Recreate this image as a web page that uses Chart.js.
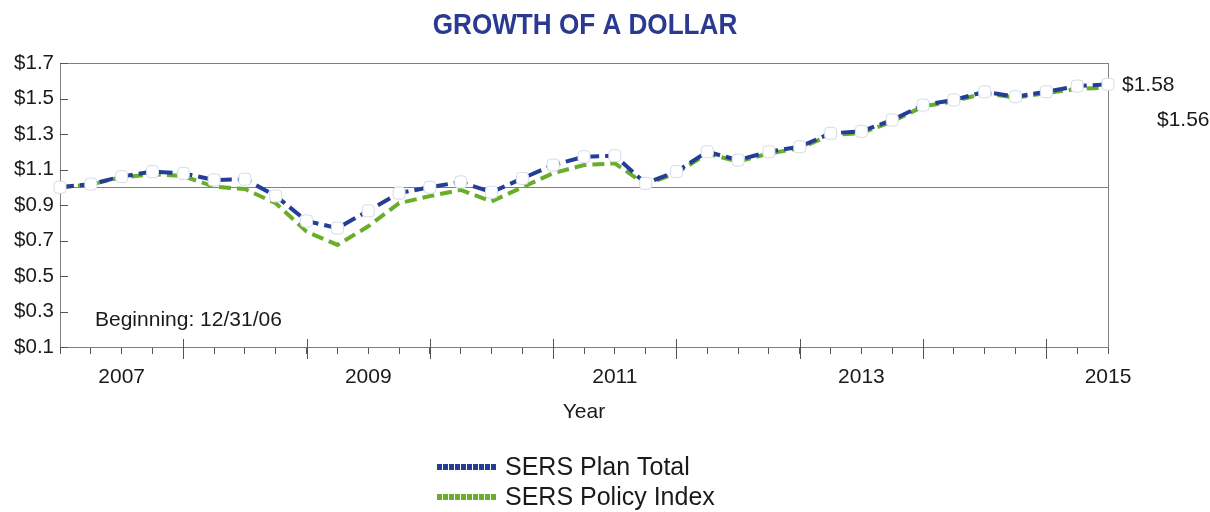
<!DOCTYPE html>
<html><head><meta charset="utf-8">
<script src="https://cdn.jsdelivr.net/npm/chart.js@4/dist/chart.umd.min.js"></script>
<style>html,body{margin:0;padding:0;background:#fff;}#wrap{width:1210px;height:512px;position:relative;}</style>
</head><body><div id="wrap"><canvas id="c" width="1210" height="512"></canvas></div>
<script>
const quarterEnds = ['12/31/06','3/31/07','6/30/07','9/30/07','12/31/07','3/31/08','6/30/08','9/30/08','12/31/08','3/31/09','6/30/09','9/30/09','12/31/09','3/31/10','6/30/10','9/30/10','12/31/10','3/31/11','6/30/11','9/30/11','12/31/11','3/31/12','6/30/12','9/30/12','12/31/12','3/31/13','6/30/13','9/30/13','12/31/13','3/31/14','6/30/14','9/30/14','12/31/14','3/31/15','6/30/15'];
const planTotal = [1.000,1.018,1.060,1.088,1.078,1.041,1.045,0.951,0.810,0.770,0.867,0.967,1.000,1.030,0.972,1.050,1.125,1.172,1.178,1.022,1.088,1.200,1.153,1.200,1.228,1.304,1.315,1.379,1.463,1.492,1.538,1.510,1.538,1.570,1.580];
const policyIndex = [1.000,1.015,1.056,1.073,1.063,1.003,0.990,0.910,0.750,0.675,0.780,0.910,0.950,0.985,0.920,1.000,1.079,1.125,1.135,1.015,1.080,1.190,1.145,1.190,1.220,1.295,1.305,1.370,1.455,1.485,1.530,1.505,1.530,1.555,1.560];
const seriesNames = ['SERS Plan Total','SERS Policy Index'];
const yearTickDates = ['6/30/07','6/30/09','6/30/11','6/30/13','6/30/15'];
const yearTickLabels = ['2007','2009','2011','2013','2015'];
const majorTickDates = ['12/31/07','12/31/08','12/31/09','12/31/10','12/31/11','12/31/12','12/31/13','12/31/14'];
const yTickValues = [0.1,0.3,0.5,0.7,0.9,1.1,1.3,1.5,1.7];
const baseValue = 1.0;
const endLabels = ['$1.58','$1.56'];
const chartTitle = 'GROWTH OF A DOLLAR';

const FONT = "'Liberation Sans', Arial, sans-serif";
const BLUE = '#243d96';
const GREEN = '#6aad2b';
const TEXT = '#1a1a1a';

const extras = {
  id: 'extras',
  beforeDatasetsDraw(chart) {
    const {ctx, chartArea: a, scales: {x, y}} = chart;
    ctx.save();
    ctx.lineWidth = 1;
    ctx.strokeStyle = '#808080';
    const yb = Math.round(y.getPixelForValue(baseValue)) + 0.5;
    ctx.beginPath(); ctx.moveTo(a.left, yb); ctx.lineTo(a.right, yb); ctx.stroke();
    ctx.strokeRect(Math.round(a.left) + 0.5, Math.round(a.top) + 0.5, Math.round(a.right - a.left), Math.round(a.bottom - a.top));
    ctx.strokeStyle = '#555';
    y.ticks.forEach(t => {
      const py = Math.round(y.getPixelForValue(t.value)) + 0.5;
      ctx.beginPath(); ctx.moveTo(a.left, py); ctx.lineTo(a.left + 8, py); ctx.stroke();
    });
    x.ticks.forEach(t => {
      if (majorTickDates.includes(x.getLabelForValue(t.value))) {
        const px = Math.round(x.getPixelForValue(t.value)) + 0.5;
        ctx.beginPath(); ctx.moveTo(px, a.bottom - 8); ctx.lineTo(px, a.bottom + 12); ctx.stroke();
      }
    });
    ctx.restore();
  },
  afterDraw(chart) {
    const {ctx, chartArea: a, scales: {x, y}} = chart;
    const cx = (a.left + a.right) / 2;
    ctx.save();
    // title (condensed bold)
    ctx.fillStyle = '#2b3a91';
    ctx.font = 'bold 30px ' + FONT;
    ctx.textAlign = 'center';
    ctx.textBaseline = 'middle';
    ctx.save();
    ctx.translate(cx + 1, 26);
    ctx.scale(0.87, 1);
    ctx.fillText(chartTitle, 0, 0);
    ctx.restore();

    ctx.fillStyle = TEXT;
    ctx.textAlign = 'left';
    ctx.textBaseline = 'middle';
    // end labels
    const yPlan = y.getPixelForValue(planTotal[planTotal.length - 1]);
    const yPol = y.getPixelForValue(policyIndex[policyIndex.length - 1]);
    ctx.font = '21px ' + FONT;
    ctx.fillText(endLabels[0], a.right + 14, yPlan + 1);
    ctx.fillText(endLabels[1], a.right + 49, yPol + 32);
    // beginning note
    ctx.font = '21px ' + FONT;
    ctx.fillText('Beginning: ' + quarterEnds[0], a.left + 35, a.bottom - 27);
    // legend
    const lx = cx - 147;
    const rows = [467, 497];
    chart.data.datasets.forEach((ds, i) => {
      ctx.strokeStyle = ds.borderColor;
      ctx.lineWidth = 6;
      ctx.setLineDash([5, 1]);
      ctx.beginPath(); ctx.moveTo(lx, rows[i]); ctx.lineTo(lx + 60, rows[i]); ctx.stroke();
      ctx.setLineDash([]);
      ctx.fillStyle = TEXT;
      ctx.font = '25px ' + FONT;
      ctx.fillText(ds.label, lx + 68, rows[i] + 1);
    });
    ctx.restore();
  }
};

new Chart(document.getElementById('c'), {
  type: 'line',
  data: {
    labels: quarterEnds,
    datasets: [
      {
        label: seriesNames[0], data: planTotal, borderColor: BLUE, backgroundColor: BLUE,
        borderWidth: 4, borderDash: [14, 6], tension: 0, clip: false, order: 0,
        pointStyle: 'rectRounded', pointRadius: 7, pointBackgroundColor: '#ffffff',
        pointBorderColor: '#d3dbea', pointBorderWidth: 1
      },
      {
        label: seriesNames[1], data: policyIndex, borderColor: GREEN, backgroundColor: GREEN,
        borderWidth: 4, borderDash: [12, 6], tension: 0, clip: false, order: 1,
        pointRadius: 0
      }
    ]
  },
  options: {
    responsive: false, animation: false, events: [],
    layout: { padding: { left: 0, right: 102, top: 63, bottom: 85 } },
    plugins: {
      legend: { display: false },
      tooltip: { enabled: false },
      title: { display: false }
    },
    scales: {
      x: {
        type: 'category', offset: false,
        border: { display: false },
        grid: { display: true, drawOnChartArea: false, drawTicks: true, tickLength: 7, tickColor: '#555', offset: false },
        ticks: {
          autoSkip: false, maxRotation: 0, minRotation: 0, padding: 11, color: TEXT,
          font: { family: FONT, size: 21 },
          callback: function (v) {
            const k = yearTickDates.indexOf(this.getLabelForValue(v));
            return k >= 0 ? yearTickLabels[k] : '';
          }
        },
        title: { display: true, text: 'Year', color: TEXT, font: { family: FONT, size: 21 }, padding: { top: 4, bottom: 2 } },
        afterFit: s => { s.height = 80; }
      },
      y: {
        min: 0.1, max: 1.7,
        border: { display: false },
        grid: { display: false, drawTicks: false },
        afterBuildTicks: s => { s.ticks = yTickValues.map(v => ({ value: v })); },
        ticks: {
          padding: 6, color: TEXT, font: { family: FONT, size: 20.5 },
          callback: v => '$' + Number(v).toFixed(1)
        },
        afterFit: s => { s.width = 60; }
      }
    }
  },
  plugins: [extras]
});
</script></body></html>
